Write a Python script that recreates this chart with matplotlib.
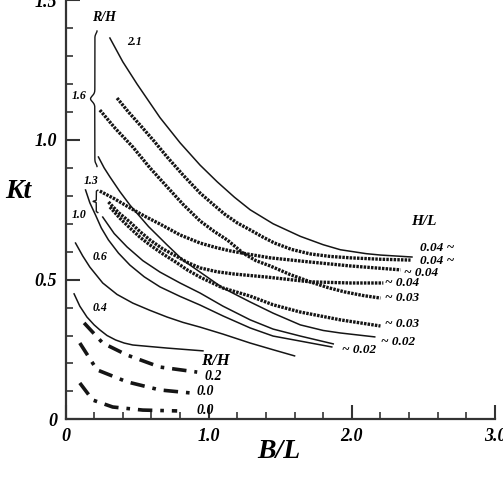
import matplotlib
matplotlib.use("Agg")
import matplotlib.pyplot as plt
import numpy as np

plt.rcParams['font.family'] = 'Liberation Serif'
plt.rcParams['font.weight'] = 'bold'
plt.rcParams['font.style'] = 'italic'

# values (B/L, Kt)
rh21_x = [0.31, 0.40, 0.50, 0.66, 0.80, 0.94, 1.06, 1.18, 1.29, 1.45, 1.64, 1.80, 1.92, 2.10, 2.20, 2.42]
rh21_y = [1.365, 1.28, 1.20, 1.08, 0.99, 0.91, 0.85, 0.795, 0.75, 0.70, 0.655, 0.625, 0.607, 0.593, 0.588,
          0.581]

rh16a_x = [0.36, 0.44, 0.52, 0.62, 0.71, 0.82, 0.94, 1.03, 1.11, 1.20, 1.29, 1.38, 1.46, 1.58, 1.71, 1.85,
           1.99, 2.20, 2.41]
rh16a_y = [1.150, 1.10, 1.054, 0.995, 0.939, 0.875, 0.810, 0.77, 0.735, 0.703, 0.678, 0.652, 0.631, 0.608,
           0.592, 0.583, 0.578, 0.573, 0.570]
rh16b_x = [0.24, 0.35, 0.47, 0.59, 0.71, 0.82, 0.94, 1.04, 1.13, 1.24, 1.33, 1.43, 1.57, 1.71, 1.83, 1.95,
           2.08, 2.20]
rh16b_y = [1.107, 1.04, 0.975, 0.90, 0.832, 0.77, 0.710, 0.672, 0.642, 0.595, 0.568, 0.549, 0.518, 0.492,
           0.472, 0.456, 0.443, 0.434]

rh13a_x = [0.24, 0.34, 0.45, 0.55, 0.66, 0.80, 0.94, 1.05, 1.15, 1.29, 1.43, 1.71, 1.99, 2.34]
rh13a_y = [0.817, 0.79, 0.757, 0.728, 0.699, 0.66, 0.631, 0.615, 0.603, 0.59, 0.578, 0.563, 0.549, 0.535]
rh13b_x = [0.30, 0.37, 0.45, 0.52, 0.59, 0.68, 0.77, 0.85, 0.94, 1.06, 1.18, 1.41, 1.71, 1.99, 2.22]
rh13b_y = [0.778, 0.74, 0.706, 0.672, 0.642, 0.61, 0.585, 0.562, 0.542, 0.528, 0.520, 0.509, 0.492, 0.488,
           0.488]
rh13c_x = [0.31, 0.38, 0.45, 0.52, 0.59, 0.68, 0.77, 0.85, 0.94, 1.10, 1.29, 1.45, 1.64, 1.92, 2.20]
rh13c_y = [0.760, 0.72, 0.685, 0.652, 0.624, 0.592, 0.563, 0.535, 0.509, 0.47, 0.441, 0.41, 0.384, 0.356,
           0.334]
rh13s_x = [0.23, 0.27, 0.31, 0.38, 0.45, 0.58, 0.71, 0.82, 0.94, 1.10, 1.29, 1.45, 1.64, 1.80, 1.92, 2.16]
rh13s_y = [0.939, 0.90, 0.868, 0.815, 0.767, 0.69, 0.624, 0.57, 0.527, 0.47, 0.420, 0.38, 0.338, 0.318,
           0.309, 0.295]

rh10a_x = [0.14, 0.17, 0.21, 0.25, 0.30, 0.37, 0.45, 0.55, 0.66, 0.80, 0.94, 1.10, 1.29, 1.45, 1.64, 1.86]
rh10a_y = [0.821, 0.775, 0.731, 0.685, 0.642, 0.595, 0.552, 0.51, 0.474, 0.44, 0.409, 0.37, 0.327, 0.298,
           0.280, 0.259]
rh10b_x = [0.26, 0.34, 0.43, 0.54, 0.66, 0.80, 0.94, 1.10, 1.29, 1.45, 1.64, 1.87]
rh10b_y = [0.724, 0.665, 0.617, 0.568, 0.527, 0.488, 0.452, 0.405, 0.356, 0.323, 0.298, 0.270]

rh06_x = [0.07, 0.12, 0.17, 0.26, 0.36, 0.47, 0.59, 0.71, 0.82, 0.94, 1.10, 1.29, 1.45, 1.60]
rh06_y = [0.631, 0.585, 0.545, 0.488, 0.447, 0.416, 0.39, 0.366, 0.347, 0.330, 0.305, 0.273, 0.249, 0.227]
rh04_x = [0.06, 0.10, 0.15, 0.20, 0.24, 0.29, 0.35, 0.41, 0.47, 0.60, 0.71, 0.96]
rh04_y = [0.449, 0.405, 0.366, 0.338, 0.320, 0.30, 0.284, 0.273, 0.266, 0.26, 0.255, 0.245]

rh02_x = [0.13, 0.26, 0.43, 0.66, 0.92]
rh02_y = [0.345, 0.273, 0.230, 0.187, 0.169]
rh00a_x = [0.10, 0.22, 0.43, 0.66, 0.88]
rh00a_y = [0.273, 0.177, 0.134, 0.105, 0.094]
rh00b_x = [0.10, 0.19, 0.33, 0.54, 0.78]
rh00b_y = [0.130, 0.069, 0.044, 0.033, 0.030]

rh_labels = ['2.1', '1.6', '1.3', '1.0', '0.6', '0.4']
hl_labels = ['0.04 ~', '0.04 ~', '~ 0.04', '~ 0.04', '~ 0.03', '~ 0.03', '~ 0.02', '~ 0.02']

fig = plt.figure(figsize=(5.03, 4.78), dpi=100)
ax = fig.add_axes([65.5 / 503, 1 - 419.3 / 478, 429.5 / 503, 419.0 / 478])

ink = '#151515'
solid = dict(color=ink, lw=1.1)
beads = dict(color=ink, lw=2.4, linestyle=(0, (0.75, 0.35)))
dashdot = dict(color=ink, lw=2.6, linestyle=(0, (4, 2.2, 1, 2.2)))

ax.plot(rh21_x, rh21_y, **solid)
ax.plot(rh16a_x, rh16a_y, **beads)
ax.plot(rh16b_x, rh16b_y, **beads)
ax.plot(rh13a_x, rh13a_y, **beads)
ax.plot(rh13b_x, rh13b_y, **beads)
ax.plot(rh13c_x, rh13c_y, **beads)
ax.plot(rh13s_x, rh13s_y, **solid)
ax.plot(rh10a_x, rh10a_y, **solid)
ax.plot(rh10b_x, rh10b_y, **solid)
ax.plot(rh06_x, rh06_y, **solid)
ax.plot(rh04_x, rh04_y, **solid)
ax.plot(rh02_x, rh02_y, **dashdot)
ax.plot(rh00a_x, rh00a_y, **dashdot)
ax.plot(rh00b_x, rh00b_y, **dashdot)


def brace(x, y0, y1, w):
    y = np.linspace(y0, y1, 200)
    s = (y - (y0 + y1) / 2) / ((y1 - y0) / 2)
    bx = x - w * np.exp(-(s / 0.06) ** 2) + 0.5 * w * np.exp(-((1 - np.abs(s)) / 0.05) ** 2)
    ax.plot(bx, y, color=ink, lw=1.0)


brace(0.205, 0.905, 1.39, 0.03)
brace(0.215, 0.74, 0.82, 0.022)

# R/H labels on the left
ax.text(0.27, 1.44, 'R/H', fontsize=10, ha='center', va='center')
for lab, (tx, ty) in zip(rh_labels, [(0.485, 1.349), (0.094, 1.158), (0.178, 0.853),
                                    (0.094, 0.733), (0.241, 0.580), (0.241, 0.399)]):
    ax.text(tx, ty, lab, fontsize=8.5, ha='center', va='center')

ax.text(1.044, 0.209, 'R/H', fontsize=12, ha='center', va='center')
ax.text(1.03, 0.152, '0.2', fontsize=10, ha='center', va='center')
ax.text(0.974, 0.098, '0.0', fontsize=10, ha='center', va='center')
ax.text(0.974, 0.030, '0.0', fontsize=10, ha='center', va='center')

# H/L labels on the right
ax.text(2.503, 0.707, 'H/L', fontsize=11, ha='center', va='center')
for lab, (tx, ty) in zip(hl_labels, [(2.594, 0.613), (2.594, 0.566), (2.482, 0.524),
                                    (2.35, 0.488), (2.35, 0.434), (2.35, 0.341),
                                    (2.322, 0.277), (2.05, 0.248)]):
    ax.text(tx, ty, lab, fontsize=9.5, ha='center', va='center')

ax.set_xlim(0, 3.0)
ax.set_ylim(0, 1.5)
ax.set_xticks([0, 1, 2, 3])
ax.set_xticklabels(['0', '1.0', '2.0', '3.0'])
ax.set_yticks([0, 0.5, 1.0, 1.5])
ax.set_yticklabels(['0', '0.5', '1.0', '1.5'])
ax.set_xticks(np.arange(0, 3.01, 0.2), minor=True)
ax.set_yticks(np.arange(0, 1.51, 0.1), minor=True)
ax.tick_params(which='major', direction='in', length=10, width=1.5, pad=6,
               labelsize=13, color='#333333')
ax.tick_params(which='minor', direction='in', length=5, width=1.2, color='#333333')
for side in ('top', 'right'):
    ax.spines[side].set_visible(False)
for side in ('left', 'bottom'):
    ax.spines[side].set_linewidth(1.6)
    ax.spines[side].set_color('#333333')
ax.patch.set_alpha(0)

fig.text(18 / 503, 1 - 191 / 478, 'Kt', fontsize=20, ha='center', va='center')
fig.text(279 / 503, 1 - 451 / 478, 'B/L', fontsize=20, ha='center', va='center')

fig.savefig('out.png', dpi=100)
